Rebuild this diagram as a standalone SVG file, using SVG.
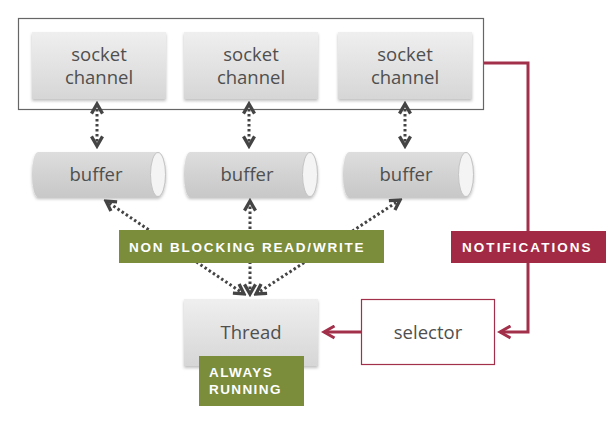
<svg xmlns="http://www.w3.org/2000/svg" width="614" height="428" viewBox="0 0 614 428">
<defs>
<linearGradient id="gBox" x1="0" y1="0" x2="0" y2="1">
<stop offset="0" stop-color="#efefef"/><stop offset="1" stop-color="#d6d6d6"/>
</linearGradient>
<linearGradient id="gBuf" x1="0" y1="0" x2="0" y2="1">
<stop offset="0" stop-color="#dedede"/><stop offset="0.5" stop-color="#d2d2d2"/><stop offset="1" stop-color="#c8c8c8"/>
</linearGradient>
<filter id="sh" x="-10%" y="-10%" width="120%" height="130%">
<feDropShadow dx="0" dy="2" stdDeviation="1.5" flood-color="#000" flood-opacity="0.25"/>
</filter>
<marker id="ah" viewBox="0 0 10 10" refX="8" refY="5" markerWidth="4.6" markerHeight="4.6" orient="auto-start-reverse" markerUnits="strokeWidth">
<path d="M1,1 L8,5 L1,9" fill="none" stroke="#444" stroke-width="2.4"/>
</marker>
<marker id="rh" viewBox="0 0 10 10" refX="8" refY="5" markerWidth="5" markerHeight="5" orient="auto" markerUnits="strokeWidth">
<path d="M1,1 L8,5 L1,9" fill="none" stroke="#a3304b" stroke-width="2"/>
</marker>
</defs>
<style>
.box{fill:url(#gBox);filter:url(#sh)}
.buf{fill:url(#gBuf);filter:url(#sh)}
.cap{fill:#f4f4f4;stroke:#c4c4c4;stroke-width:1}
.t{font-family:"Open Sans","Liberation Sans",sans-serif;font-size:18.5px;fill:#4f4f4f;text-anchor:middle}
.lab{font-family:"Liberation Sans",Arial,sans-serif;font-size:13.5px;font-weight:bold;fill:#fff;letter-spacing:1.4px}
.dot{fill:none;stroke:#444;stroke-width:3;stroke-dasharray:2.5 2.5;marker-start:url(#ah);marker-end:url(#ah)}
.red{fill:none;stroke:#a3304b;stroke-width:3}
</style>
<rect width="614" height="428" fill="#fff"/>
<g id="container"><rect x="18.5" y="18.5" width="465" height="91" fill="#fff" stroke="#666" stroke-width="1.2"/></g>
<g id="socket1"><rect class="box" x="32" y="32" width="134" height="67"/><text class="t" x="99" y="61">socket</text><text class="t" x="99" y="84">channel</text></g>
<g id="socket2"><rect class="box" x="184" y="32" width="134" height="67"/><text class="t" x="251" y="61">socket</text><text class="t" x="251" y="84">channel</text></g>
<g id="socket3"><rect class="box" x="338" y="32" width="134" height="67"/><text class="t" x="405" y="61">socket</text><text class="t" x="405" y="84">channel</text></g>
<g id="buffer1"><path class="buf" d="M38,152 H158 A8,22.5 0 0 1 158,197 H38 A6,22.5 0 0 1 38,152 Z"/><ellipse class="cap" cx="158" cy="174.5" rx="7.5" ry="22"/><text class="t" x="96" y="181">buffer</text></g>
<g id="buffer2"><path class="buf" d="M190,152 H310 A8,22.5 0 0 1 310,197 H190 A6,22.5 0 0 1 190,152 Z"/><ellipse class="cap" cx="310" cy="174.5" rx="7.5" ry="22"/><text class="t" x="247" y="181">buffer</text></g>
<g id="buffer3"><path class="buf" d="M349,152 H466 A8,22.5 0 0 1 466,197 H349 A6,22.5 0 0 1 349,152 Z"/><ellipse class="cap" cx="466" cy="174.5" rx="7.5" ry="22"/><text class="t" x="406" y="181">buffer</text></g>
<g id="connectors">
<line class="dot" x1="97" y1="104" x2="97" y2="146"/>
<line class="dot" x1="249" y1="104" x2="249" y2="146"/>
<line class="dot" x1="405" y1="104" x2="405" y2="146"/>
<line class="dot" x1="244" y1="294" x2="106" y2="201"/>
<line class="dot" x1="250" y1="294" x2="250" y2="201"/>
<line class="dot" x1="256" y1="294" x2="400" y2="200"/>
<polyline class="red" points="484,63 528,63 528,332 500,332" marker-end="url(#rh)"/>
<line class="red" x1="361" y1="332" x2="324" y2="332" marker-end="url(#rh)"/>
</g>
<g id="nonblocking"><rect x="119" y="230" width="265" height="33" fill="#7b8c3b"/><text class="lab" x="129" y="252" textLength="236">NON BLOCKING READ/WRITE</text></g>
<g id="thread"><rect class="box" x="184" y="299" width="134" height="67"/><text class="t" x="251" y="339">Thread</text></g>
<g id="always"><rect x="199" y="356" width="105" height="50" fill="#7b8c3b"/><text class="lab" x="209" y="377">ALWAYS</text><text class="lab" x="209" y="394">RUNNING</text></g>
<g id="selector"><rect x="361.5" y="299.5" width="133" height="65" fill="#fff" stroke="#a3304b" stroke-width="1.2"/><text class="t" x="428" y="339">selector</text></g>
<g id="notifications"><rect x="451" y="231" width="155" height="32" fill="#a32a45"/><text class="lab" x="462" y="252" textLength="130">NOTIFICATIONS</text></g>
</svg>
